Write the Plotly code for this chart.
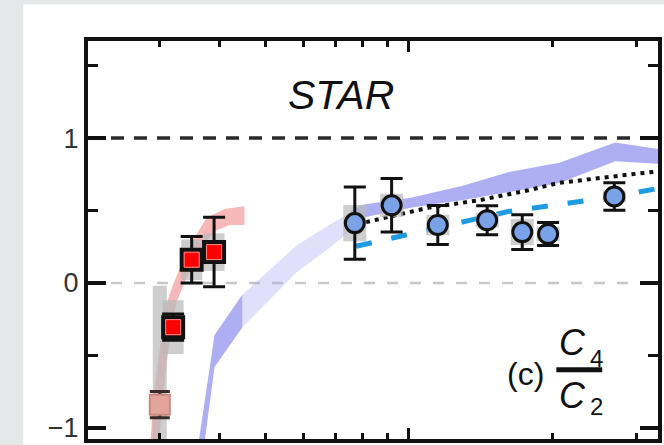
import plotly.graph_objects as go

# ---------------- data ----------------
# FXT 3.0 GeV point (faded style)
e3_energy = [3.0]
e3_value = [-0.84]
e3_stat = [0.09]
e3_sys = [0.82]

# FXT points 3.2 - 3.9 GeV
fxt_energy = [3.2, 3.5, 3.9]
fxt_value = [-0.305, 0.16, 0.213]
fxt_stat = [0.09, 0.16, 0.24]
fxt_sys = [0.185, 0.14, 0.13]

# collider points
bes_energy = [7.7, 9.2, 11.5, 14.6, 17.3, 19.6, 27.0]
bes_value = [0.413, 0.536, 0.400, 0.433, 0.351, 0.338, 0.597]
bes_stat = [0.25, 0.185, 0.135, 0.10, 0.12, 0.08, 0.095]
bes_sys = [0.125, 0.08, 0.07, 0.05, 0.09, 0.05, 0.04]

# pink model band
pink_upper_energy = [2.858, 2.913, 2.970, 3.043, 3.117, 3.192, 3.303, 3.516, 3.761, 4.102, 4.516]
pink_upper_value = [-1.15, -0.80, -0.55, -0.30, -0.12, -0.02, 0.10, 0.29, 0.45, 0.51, 0.53]
pink_lower_energy = [2.985, 3.043, 3.102, 3.177, 3.254, 3.351, 3.465, 3.689, 3.928, 4.202, 4.516]
pink_lower_value = [-1.15, -0.80, -0.55, -0.30, -0.13, -0.03, 0.08, 0.26, 0.36, 0.40, 0.40]

# blue model band, dark low-energy segment
bdl_upper_energy = [3.619, 3.909, 4.473]
bdl_upper_value = [-1.10, -0.36, -0.08]
bdl_lower_energy = [3.725, 3.909, 4.473]
bdl_lower_value = [-1.10, -0.58, -0.305]

# blue model band, light middle segment
bm_energy = [4.473, 5.80, 6.80, 7.56]
bm_upper = [-0.08, 0.256, 0.40, 0.49]
bm_lower = [-0.305, 0.071, 0.24, 0.36]

# blue model band, dark high-energy segment
bdh_energy = [7.56, 7.97, 10.15, 12.91, 16.43, 20.70, 27.11, 33.34]
bdh_upper = [0.50, 0.54, 0.59, 0.67, 0.77, 0.83, 0.97, 0.925]
bdh_lower = [0.42, 0.45, 0.52, 0.57, 0.63, 0.69, 0.84, 0.823]

# dotted black model line
dot_energy = [8.13, 11.01, 14.01, 17.82, 20.60, 24.15, 28.44, 33.34]
dot_value = [0.42, 0.52, 0.57, 0.64, 0.69, 0.72, 0.745, 0.77]

# dashed cyan model line
dash_energy = [7.75, 9.67, 13.54, 16.17, 20.6, 27.1, 33.34]
dash_value = [0.253, 0.322, 0.435, 0.493, 0.538, 0.597, 0.652]

# axis ticks
x_major_ticks = [10]
x_minor_ticks = [3, 4, 5, 6, 7, 8, 9, 20, 30]
y_major_ticks = [-1, 0, 1]
y_minor_ticks = [-0.5, 0.5, 1.5]

# ---------------- figure ----------------
W, H = 664, 445
ML, MR, MT, MB = 88, 4, 41, 2
PW, PH = W - ML - MR, H - MT - MB


def px(x):
    return (x - ML) / PW


def py(y):
    return (H - MB - y) / PH


fig = go.Figure()


def band(xu, yu, xl, yl, color):
    fig.add_trace(go.Scatter(
        x=list(xu) + list(xl)[::-1], y=list(yu) + list(yl)[::-1],
        mode="lines", fill="toself", fillcolor=color,
        line=dict(width=0), hoverinfo="skip", showlegend=False))


band(pink_upper_energy, pink_upper_value, pink_lower_energy, pink_lower_value,
     "rgba(238,125,125,0.55)")
band(bdl_upper_energy, bdl_upper_value, bdl_lower_energy, bdl_lower_value,
     "rgba(120,120,235,0.6)")
band(bm_energy, bm_upper, bm_energy, bm_lower, "rgba(160,160,240,0.33)")
band(bdh_energy, bdh_upper, bdh_energy, bdh_lower, "rgba(120,120,235,0.6)")

fig.add_trace(go.Scatter(x=dot_energy, y=dot_value, mode="lines",
                         line=dict(color="#111111", width=4, dash="4px,5px"),
                         showlegend=False))
fig.add_trace(go.Scatter(x=dash_energy, y=dash_value, mode="lines",
                         line=dict(color="#1e9be3", width=5, dash="16px,20px"),
                         showlegend=False))

# systematic boxes
def sys_boxes(x, y, s, w):
    fig.add_trace(go.Scatter(
        x=x, y=y, mode="markers", marker=dict(size=1, opacity=0),
        error_y=dict(type="data", array=s, visible=True, thickness=w, width=0,
                     color="rgba(185,185,185,0.7)"),
        hoverinfo="skip", showlegend=False))


sys_boxes(e3_energy, e3_value, e3_sys, 14)
sys_boxes(fxt_energy, fxt_value, fxt_sys, 21)
sys_boxes(bes_energy, bes_value, bes_sys, 23)

# 3.0 GeV faded point
fig.add_trace(go.Scatter(
    x=e3_energy, y=e3_value, mode="markers",
    marker=dict(symbol="square", size=20, color="#e3a49c",
                line=dict(color="#c98880", width=2)),
    error_y=dict(type="data", array=e3_stat, visible=True, thickness=3,
                 width=10, color="#3a2a2a"),
    showlegend=False))

# FXT red squares
fig.add_trace(go.Scatter(
    x=fxt_energy, y=fxt_value, mode="markers",
    marker=dict(symbol="square", size=20, color="#ff1010",
                line=dict(color="#111111", width=4)),
    error_y=dict(type="data", array=fxt_stat, visible=True, thickness=3,
                 width=11, color="#111111"),
    showlegend=False))
fig.add_trace(go.Scatter(
    x=fxt_energy, y=fxt_value, mode="markers",
    marker=dict(symbol="square", size=15, color="#ff0000",
                line=dict(color="#f08a8a", width=1)),
    hoverinfo="skip", showlegend=False))

# collider circles
fig.add_trace(go.Scatter(
    x=bes_energy, y=bes_value, mode="markers",
    marker=dict(symbol="circle", size=19, color="#7aa2e6",
                line=dict(color="#111111", width=3)),
    error_y=dict(type="data", array=bes_stat, visible=True, thickness=3,
                 width=11, color="#111111"),
    showlegend=False))

shapes = [
    dict(type="rect", xref="paper", yref="paper", x0=px(23), x1=px(W + 10),
         y0=py(H + 10), y1=py(4), fillcolor="white", line=dict(width=0),
         layer="below"),
    dict(type="line", xref="paper", yref="y", x0=0, x1=1, y0=1, y1=1,
         line=dict(color="#2a2a2a", width=3.5, dash="13px,10px"), layer="below"),
    dict(type="line", xref="paper", yref="y", x0=0, x1=1, y0=0, y1=0,
         line=dict(color="#c8c8c8", width=2.5, dash="11px,12px"), layer="below"),
    dict(type="line", xref="paper", yref="paper", x0=px(558), x1=px(604),
         y0=py(373), y1=py(373), line=dict(color="#111111", width=5)),
]

font = "Liberation Sans, Arial, Helvetica, sans-serif"


def label(text, cx, cy, size):
    return dict(text=text, x=px(cx), y=py(cy), xref="paper", yref="paper",
                xanchor="center", yanchor="middle", showarrow=False,
                font=dict(size=size, color="#111111", family=font))


annotations = [
    label("<i>STAR</i>", 342, 96, 41),
    label("(c)", 527, 377, 32),
    label("<i>C</i>", 574, 346, 36),
    label("4", 598, 362, 24),
    label("<i>C</i>", 574, 399, 36),
    label("2", 598, 410, 24),
]

fig.update_layout(
    width=W, height=H, autosize=False,
    margin=dict(l=ML, r=MR, t=MT, b=MB, pad=0),
    paper_bgcolor="#e5e8e9", plot_bgcolor="white",
    shapes=shapes, annotations=annotations,
    font=dict(family=font),
    xaxis=dict(type="log", range=[0.3264, 1.523], showgrid=False, zeroline=False,
               showline=True, linecolor="#111111", linewidth=4, mirror="ticks",
               ticks="inside", tickmode="array", tickvals=x_major_ticks,
               ticklen=11, tickwidth=3, tickcolor="#111111",
               showticklabels=False,
               minor=dict(ticks="inside", tickmode="array", tickvals=x_minor_ticks,
                          ticklen=6, tickwidth=2.5, tickcolor="#111111",
                          showgrid=False)),
    yaxis=dict(range=[-1.077, 1.670], showgrid=False, zeroline=False,
               showline=True, linecolor="#111111", linewidth=4, mirror="ticks",
               ticks="inside", tickmode="array", tickvals=y_major_ticks,
               ticklen=18, tickwidth=3.5, tickcolor="#111111",
               ticklabeloverflow="allow",
               tickfont=dict(size=27, color="#333333", family=font),
               minor=dict(ticks="inside", tickmode="array", tickvals=y_minor_ticks,
                          ticklen=10, tickwidth=3, tickcolor="#111111",
                          showgrid=False)),
)

fig.write_html(
    "out.html",
    config={"displayModeBar": False},
    post_script="document.body.style.margin='0px';document.body.style.overflow='hidden';",
)
